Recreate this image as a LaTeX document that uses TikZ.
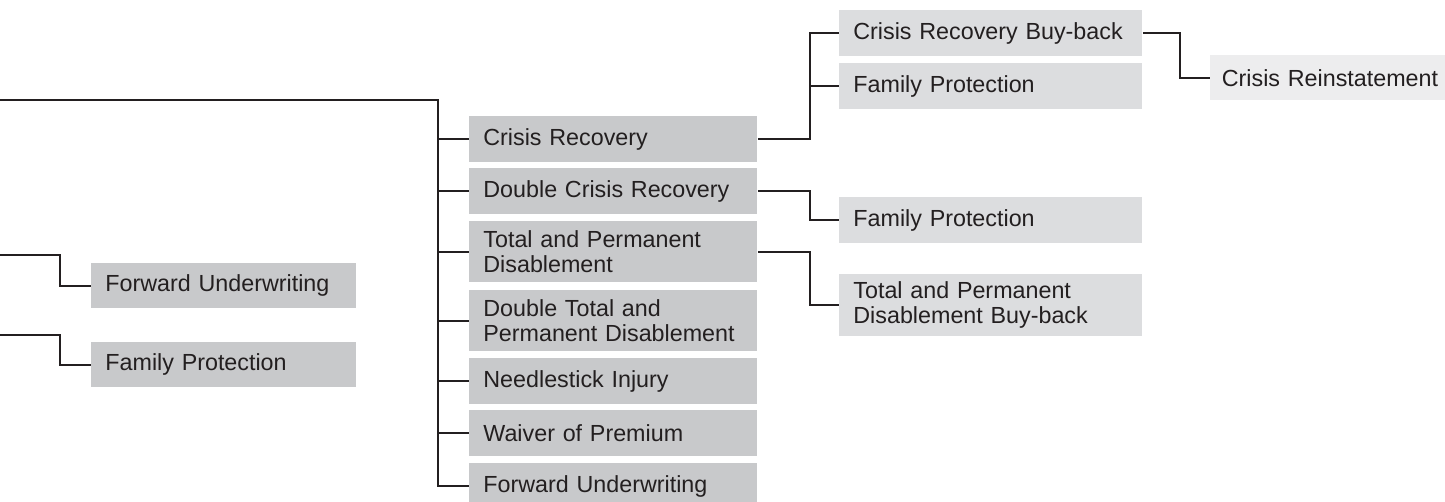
\documentclass[tikz,border=0pt]{standalone}
\usepackage{fontspec}
\setmainfont{Liberation Sans}
\usepackage{tikz}
\usetikzlibrary{positioning}
\definecolor{inkline}{HTML}{231F20}
\definecolor{boxmid}{HTML}{C8C9CB}
\definecolor{boxside}{HTML}{DCDDDF}
\definecolor{boxpale}{HTML}{EDEDEE}

\begin{document}
\begin{tikzpicture}
  [
    x=0.5pt, y=-0.5pt,
    Box/.style={rectangle, anchor=north west, inner xsep=7pt, inner ysep=0pt, align=left,
      text=inkline, font=\fontsize{11.65}{12.5}\selectfont},
    Mid/.style={Box, fill=boxmid, text width=130pt, minimum height=23pt},
    Left/.style={Box, fill=boxmid, text width=118.5pt, minimum height=22.5pt},
    Side/.style={Box, fill=boxside, text width=137.5pt, minimum height=23pt},
    Pale/.style={Box, fill=boxpale, inner xsep=5.75pt, text width=106pt, minimum height=22.5pt},
    Line/.style={draw=inkline, line width=1pt}
  ]
  \path[use as bounding box, clip] (0,0) rectangle (1445,502);
  % Nodes
  \node[Mid] (crisis) at (469,116) {Crisis Recovery};
  \node[Mid] (dblcrisis) at (469,168) {Double Crisis Recovery};
  \node[Mid, minimum height=30.5pt] (tpd) at (469,221) {Total and Permanent\\Disablement};
  \node[Mid, minimum height=30.5pt] (dbltpd) at (469,290) {Double Total and\\Permanent Disablement};
  \node[Mid] (needle) at (469,358) {Needlestick Injury};
  \node[Mid] (waiver) at (469,410) {Waiver of Premium};
  \node[Mid] (fwdmid) at (469,463) {Forward Underwriting};

  \node[Left] (fwdleft) at (91,263) {Forward Underwriting};
  \node[Left] (famleft) at (91,342) {Family Protection};

  \node[Side] (crbuy) at (839,10) {Crisis Recovery Buy-back};
  \node[Side] (famcr) at (839,63) {Family Protection};
  \node[Side] (famdcr) at (839,197) {Family Protection};
  \node[Side, minimum height=31pt] (tpdbuy) at (839,274) {Total and Permanent\\Disablement Buy-back};
  \node[Pale] (reinst) at (1210,55) {\mbox{Crisis Reinstatement}};

  \coordinate (in1) at (0,100);
  \coordinate (in2) at (0,255);
  \coordinate (in3) at (0,335);
  \coordinate (trunk) at (438,100);
  % Lines
  \path [Line] (in1) -- (trunk) |- (fwdmid.west);
  \foreach \n in {crisis,dblcrisis,tpd,dbltpd,needle,waiver}
    \path [Line] (trunk |- \n.west) -- (\n.west);
  \path [Line] (in2) -- ++(60,0) |- (fwdleft.west);
  \path [Line] (in3) -- ++(60,0) |- (famleft.west);
  \path [Line] (crisis.east) -- ++(52,0) coordinate (cj) |- (crbuy.west);
  \path [Line] (cj |- famcr.west) -- (famcr.west);
  \path [Line] (dblcrisis.east) -- ++(52,0) |- (famdcr.west);
  \path [Line] (tpd.east) -- ++(52,0) |- (tpdbuy.west);
  \path [Line] (crbuy.east) -- ++(37,0) |- (reinst.west);
\end{tikzpicture}
\end{document}
